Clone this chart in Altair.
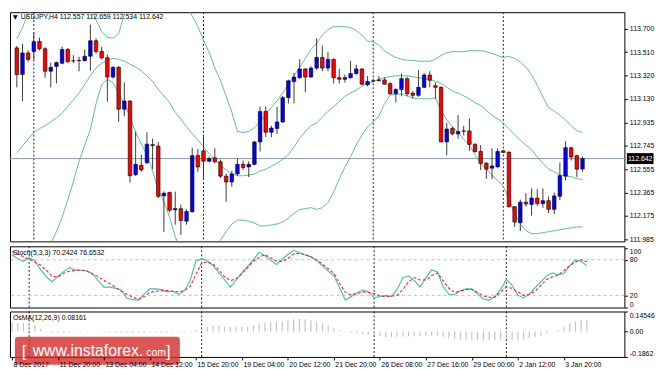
import altair as alt
import pandas as pd

# ---------------- data ----------------
symbol = "USDJPY,H4"
opens = [113.545,113.328,113.504,113.516,113.598,113.538,113.355,113.394,113.420,113.532,
         113.441,113.441,113.441,113.477,113.603,113.516,113.464,113.307,113.386,113.045,
         113.111,112.511,112.587,112.609,112.756,112.744,112.338,112.365,112.224,112.234,
         112.132,112.208,112.668,112.705,112.621,112.648,112.616,112.499,112.451,112.517,
         112.595,112.574,112.595,112.778,113.027,112.857,112.888,112.941,113.139,113.270,
         113.302,113.373,113.307,113.380,113.467,113.380,113.451,113.302,113.289,113.302,
         113.336,113.373,113.245,113.276,113.278,113.284,113.255,113.171,113.205,113.294,
         113.176,113.158,113.223,113.323,113.237,113.223,112.778,112.888,112.844,112.868,
         112.868,112.758,112.700,112.605,112.564,112.574,112.705,112.695,112.250,112.119,
         112.287,112.268,112.320,112.276,112.299,112.228,112.334,112.499,112.731,112.666,
         112.557]
highs = [113.561,113.577,113.524,113.669,113.629,113.551,113.425,113.433,113.556,113.545,
         113.485,113.472,113.532,113.734,113.622,113.556,113.490,113.396,113.396,113.263,
         113.119,112.862,112.674,112.857,112.805,112.778,112.375,112.373,112.373,112.268,
         112.228,112.731,112.721,112.825,112.660,112.726,112.634,112.517,112.543,112.642,
         112.627,112.621,112.786,113.066,113.066,112.909,113.066,113.153,113.286,113.341,
         113.453,113.380,113.396,113.622,113.563,113.512,113.459,113.375,113.328,113.438,
         113.406,113.380,113.315,113.294,113.315,113.302,113.263,113.216,113.336,113.310,
         113.192,113.362,113.340,113.355,113.263,113.231,112.935,112.901,112.996,112.909,
         112.970,112.768,112.752,112.613,112.726,112.726,112.711,112.700,112.255,112.307,
         112.360,112.399,112.393,112.399,112.334,112.365,112.609,112.784,112.737,112.674,
         112.659]
lows = [113.223,113.111,113.433,113.446,113.524,113.302,113.223,113.255,113.412,113.420,
        113.420,113.355,113.435,113.359,113.498,113.451,113.106,113.294,112.941,112.988,
        112.446,112.501,112.535,112.595,112.556,112.320,112.045,112.203,112.103,112.020,
        112.103,112.203,112.535,112.472,112.611,112.603,112.485,112.289,112.412,112.501,
        112.550,112.491,112.587,112.700,112.817,112.817,112.844,112.933,113.092,113.092,
        113.294,113.184,113.302,113.365,113.355,113.355,113.257,113.255,113.263,113.294,
        113.326,113.241,113.231,113.263,113.270,113.247,113.163,113.100,113.150,113.150,
        113.131,113.145,113.216,113.223,113.131,112.776,112.668,112.831,112.805,112.831,
        112.705,112.689,112.548,112.477,112.477,112.569,112.687,112.242,112.085,112.051,
        112.250,112.177,112.255,112.242,112.197,112.189,112.302,112.464,112.627,112.491,
        112.534]
closes = [113.328,113.504,113.451,113.595,113.538,113.355,113.386,113.425,113.532,113.433,
          113.439,113.443,113.477,113.603,113.516,113.464,113.307,113.386,113.045,113.111,
          112.503,112.595,112.550,112.760,112.748,112.334,112.360,112.221,112.234,112.137,
          112.210,112.666,112.574,112.621,112.642,112.616,112.499,112.451,112.517,112.595,
          112.569,112.595,112.778,113.027,112.857,112.891,112.941,113.139,113.276,113.307,
          113.373,113.307,113.380,113.467,113.380,113.451,113.302,113.289,113.302,113.336,
          113.373,113.249,113.270,113.274,113.284,113.249,113.171,113.205,113.294,113.171,
          113.158,113.223,113.323,113.281,113.223,112.778,112.883,112.844,112.862,112.865,
          112.758,112.700,112.603,112.556,112.582,112.700,112.692,112.250,112.124,112.287,
          112.271,112.320,112.276,112.299,112.228,112.338,112.503,112.731,112.656,112.556,
          112.642]
bb_upper = [113.616,113.711,113.828,113.868,113.883,113.899,113.931,113.899,113.876,113.891,
            113.899,113.899,113.883,113.860,113.773,113.679,113.632,113.624,113.663,113.813,
            113.915,113.970,113.993,113.993,113.993,114.009,114.009,113.993,113.962,113.931,
            113.883,113.805,113.718,113.608,113.506,113.381,113.279,113.153,113.020,112.863,
            112.855,112.863,112.894,112.941,113.004,113.059,113.114,113.177,113.247,113.318,
            113.389,113.459,113.530,113.585,113.648,113.695,113.718,113.718,113.718,113.711,
            113.687,113.648,113.601,113.593,113.569,113.522,113.491,113.467,113.452,113.444,
            113.444,113.436,113.436,113.436,113.452,113.483,113.506,113.514,113.514,113.514,
            113.522,113.522,113.522,113.514,113.499,113.483,113.467,113.475,113.459,113.428,
            113.389,113.326,113.239,113.145,113.059,113.028,112.996,112.957,112.910,112.870,
            112.855]
bb_middle = [112.690,112.745,112.800,112.855,112.886,112.910,112.941,112.973,113.012,113.067,
             113.122,113.177,113.247,113.318,113.381,113.420,113.444,113.459,113.452,113.436,
             113.412,113.389,113.357,113.318,113.271,113.208,113.153,113.098,113.020,112.965,
             112.902,112.847,112.792,112.737,112.682,112.635,112.588,112.549,112.517,112.502,
             112.502,112.509,112.517,112.541,112.556,112.580,112.604,112.635,112.674,112.737,
             112.808,112.863,112.910,112.933,112.980,113.028,113.067,113.106,113.153,113.177,
             113.200,113.232,113.255,113.271,113.287,113.302,113.310,113.318,113.318,113.318,
             113.310,113.302,113.294,113.287,113.271,113.255,113.224,113.192,113.177,113.153,
             113.130,113.098,113.075,113.035,112.996,112.965,112.933,112.886,112.839,112.792,
             112.753,112.713,112.658,112.604,112.556,112.533,112.509,112.502,112.494,112.478,
             112.470]
bb_lower = [111.693,111.748,111.795,111.842,111.889,111.920,111.952,112.046,112.164,112.305,
            112.454,112.619,112.753,112.878,113.090,113.247,113.287,113.263,113.177,113.090,
            112.988,112.855,112.761,112.674,112.541,112.384,112.290,112.164,112.007,111.889,
            111.826,111.795,111.787,111.795,111.842,111.913,111.975,112.046,112.109,112.140,
            112.140,112.132,112.117,112.093,112.093,112.101,112.109,112.125,112.156,112.195,
            112.227,112.234,112.242,112.227,112.242,112.282,112.368,112.478,112.572,112.658,
            112.753,112.831,112.902,112.941,112.988,113.090,113.161,113.169,113.169,113.153,
            113.137,113.130,113.130,113.130,113.137,113.035,112.957,112.902,112.855,112.800,
            112.753,112.674,112.604,112.556,112.509,112.462,112.415,112.313,112.195,112.109,
            112.054,112.030,112.030,112.038,112.046,112.054,112.062,112.070,112.077,112.085,
            112.085]
stoch_main = [88.6,82,77.5,83.5,78.3,63,51,43,52,60,
              67,63,62,61.7,57,45,34,34,32,29,
              15,13,12,22,31,31,30,26,27,22,
              28,45,78,82,78,70,58,46,34,46,
              58,69,80,93,87,79,72,81,89,96,
              92,88,85,79,70,61,53,33,12,18,
              24,29,26,16,18,20,18,30,50,53,
              45,34,50,63,60,35,22,21,28,31,
              31,22,14,12,18,30,47,37,20,16,
              22,33,43,53,58,55,57,70,80,77,
              70.2424]
stoch_signal = [94,90,85,81,76,71,62,52,51,57,
                61,62,63,61,56,52,45,40,34,27,
                22,17,13,18,25,27,28,28,27,26,
                28,35,55,75,76,73,63,51,45,48,
                57,67,78,84,89,83,78,77,82,90,
                91,89,85,80,73,65,57,40,25,21,
                23,26,25,23,19,18,19,20,30,43,
                50,46,46,53,58,45,32,25,27,30,
                30,25,19,17,17,26,34,32,26,20,
                22,27,37,47,51,54,62,70,76,80,
                76.6532]
osma = [0.065,0.062,0.062,0.058,0.045,0.02,-0.005,-0.008,-0.01,-0.01,
        -0.008,-0.006,-0.005,-0.004,-0.003,-0.004,-0.006,-0.008,-0.01,-0.01,
        -0.012,-0.012,-0.01,-0.01,-0.008,-0.01,-0.01,-0.01,-0.008,-0.008,
        -0.006,-0.004,0.01,0.02,0.035,0.04,0.04,0.035,0.03,0.03,
        0.032,0.035,0.045,0.06,0.065,0.068,0.07,0.075,0.082,0.088,
        0.09,0.088,0.08,0.07,0.06,0.045,0.025,0.01,-0.005,-0.01,
        -0.015,-0.02,-0.025,-0.03,-0.035,-0.038,-0.04,-0.04,-0.038,-0.035,
        -0.035,-0.035,-0.032,-0.03,-0.03,-0.04,-0.05,-0.055,-0.06,-0.06,
        -0.06,-0.062,-0.065,-0.065,-0.062,-0.058,-0.055,-0.06,-0.065,-0.06,
        -0.05,-0.04,-0.03,-0.015,-0.005,0.01,0.03,0.06,0.075,0.082,
        0.08161]

time_tick_idx = [0, 8, 16, 24, 32, 40, 48, 56, 64, 72, 80, 88, 96]
time_tick_labels = ["8 Dec 2017", "11 Dec 20:00", "13 Dec 04:00", "14 Dec 12:00",
                    "15 Dec 20:00", "19 Dec 04:00", "20 Dec 12:00", "21 Dec 20:00",
                    "26 Dec 08:00", "27 Dec 16:00", "29 Dec 00:00", "2 Jan 12:00",
                    "3 Jan 20:00"]
separators = [3, 33, 63, 86]
price_ticks = [113.700, 113.510, 113.320, 113.130, 112.935, 112.745, 112.555, 112.365, 112.175, 111.985]
stoch_ticks = [0, 20, 80, 100]
stoch_levels = [20, 80]
osma_ticks = [0.14546, 0.0, -0.1862]
osma_tick_labels = ["0.14546", "0.00", "-0.1862"]
stoch_title = "Stoch(5,3,3) 70.2424 76.6532"
osma_title = "OsMA(12,26,9) 0.08161"

# ---------------- layout ----------------
W = 622
H1, H2, H3 = 232, 62, 46
FONT = "Liberation Sans"

n = len(opens)
df = pd.DataFrame({
    "i": list(range(n)), "open": opens, "high": highs, "low": lows, "close": closes,
    "bb_up": bb_upper, "bb_mid": bb_middle, "bb_lo": bb_lower,
    "main": stoch_main, "signal": stoch_signal, "osma": osma,
})
df["zero"] = 0.0
df["dir"] = ["up" if c >= o else "down" for o, c in zip(opens, closes)]
sep_df = pd.DataFrame({"i": separators})
last_df = pd.DataFrame({"p": [closes[-1]], "lbl": [f"{closes[-1]:.3f}"]})
header = f"{symbol} {opens[-1]:.3f} {highs[-1]:.3f} {lows[-1]:.3f} {closes[-1]:.3f}"

xs = alt.Scale(domain=[-0.34, 106.53], nice=False, zero=False)
X = alt.X("i:Q", scale=xs, axis=None)

axis_common = dict(orient="right", tickSize=3, labelFontSize=7, labelPadding=2, domain=False,
                   grid=False, title=None, labelColor="black", tickColor="black", labelFont=FONT,
                   labelOverlap=False)

# ---- price panel ----
ys = alt.Scale(domain=[111.967, 113.836], nice=False, zero=False)
yax = alt.Axis(values=price_ticks, format=".3f", **axis_common)
def YP(f):
    return alt.Y(f, scale=ys, axis=yax)

sep = alt.Chart(sep_df).mark_rule(color="#222222", strokeDash=[2, 2], strokeWidth=1).encode(x=X)
bb = alt.Chart(df).transform_fold(["bb_up", "bb_mid", "bb_lo"], as_=["band", "val"]).mark_line(
    color="#5cc090", strokeWidth=1, clip=True).encode(x=X, y=YP("val:Q"), detail="band:N")
pline = alt.Chart(last_df).mark_rule(color="#8797a8", strokeWidth=1).encode(y=YP("p:Q"))
wick = alt.Chart(df).mark_rule(color="#3a3a3a", strokeWidth=1, clip=True).encode(
    x=X, y=YP("low:Q"), y2="high:Q")
body = alt.Chart(df).mark_bar(size=3.6, stroke="black", strokeWidth=0.6, clip=True).encode(
    x=X, y=YP("open:Q"), y2="close:Q",
    color=alt.Color("dir:N", scale=alt.Scale(domain=["up", "down"], range=["#0000ff", "#ff0000"]), legend=None))
tri = alt.Chart(pd.DataFrame({"t": ["\u25bc"]})).mark_text(
    align="left", baseline="middle", fontSize=6, font="DejaVu Sans", color="black").encode(
    x=alt.value(3), y=alt.value(5), text="t:N")
hdr = alt.Chart(pd.DataFrame({"t": [header]})).mark_text(
    align="left", baseline="middle", fontSize=7, color="black").encode(
    x=alt.value(11), y=alt.value(5), text="t:N")
box = alt.Chart(last_df).mark_point(
    shape="M-1,-0.41L1,-0.41L1,0.41L-1,0.41Z", size=729, filled=True, color="black",
    opacity=1, strokeWidth=0, clip=False).encode(x=alt.value(W + 16), y=YP("p:Q"))
boxt = alt.Chart(last_df).mark_text(color="white", fontSize=7, align="center", baseline="middle").encode(
    x=alt.value(W + 16), y=YP("p:Q"), text="lbl:N")

price = alt.layer(sep, bb, pline, wick, body, tri, hdr, box, boxt).properties(width=W, height=H1)

# ---- stochastic panel ----
yss = alt.Scale(domain=[-0.5, 102.8], nice=False, zero=False)
ysax = alt.Axis(values=stoch_ticks, labelFlush=3, **axis_common)
def YS(f):
    return alt.Y(f, scale=yss, axis=ysax)

lev = alt.Chart(pd.DataFrame({"v": stoch_levels})).mark_rule(
    color="#c0c0c0", strokeDash=[3, 3], strokeWidth=1).encode(y=YS("v:Q"))
smain = alt.Chart(df).mark_line(color="#3dbdb4", strokeWidth=1.1, clip=True).encode(x=X, y=YS("main:Q"))
ssig = alt.Chart(df).mark_line(color="#ff2020", strokeWidth=1.1, strokeDash=[3, 2], clip=True).encode(
    x=X, y=YS("signal:Q"))
stxt = alt.Chart(pd.DataFrame({"t": [stoch_title]})).mark_text(
    align="left", baseline="middle", fontSize=7, color="black").encode(
    x=alt.value(3), y=alt.value(7), text="t:N")
stoch = alt.layer(sep, lev, smain, ssig, stxt).properties(width=W, height=H2)

# ---- OsMA panel ----
yos = alt.Scale(domain=[-0.1862, 0.14546], nice=False, zero=False)
osma_expr = "[" + ",".join(f"'{l}'" for l in osma_tick_labels) + "][indexof([" + \
    ",".join(str(v) for v in osma_ticks) + "], datum.value)]"
yoax = alt.Axis(values=osma_ticks, labelExpr=osma_expr, labelFlush=3, **axis_common)
def YO(f):
    return alt.Y(f, scale=yos, axis=yoax)

time_expr = "[" + ",".join(f"'{l}'" for l in time_tick_labels) + "][indexof([" + \
    ",".join(str(v) for v in time_tick_idx) + "], datum.value)]"
xax = alt.Axis(values=time_tick_idx, labelExpr=time_expr, labelAlign="left", labelBaseline="top",
               tickSize=3, labelPadding=1, labelOffset=1, labelFontSize=7, domain=False, grid=False,
               title=None, labelColor="black", tickColor="black", labelOverlap=False,
               labelFont=FONT, zindex=1)
XO = alt.X("i:Q", scale=xs, axis=xax)

sep3 = alt.Chart(sep_df).mark_rule(color="#222222", strokeDash=[2, 2], strokeWidth=1).encode(x=XO)
obar = alt.Chart(df).mark_rule(color="#c4c4c4", strokeWidth=1.2, clip=True).encode(
    x=XO, y=YO("zero:Q"), y2="osma:Q")
otxt = alt.Chart(pd.DataFrame({"t": [osma_title]})).mark_text(
    align="left", baseline="middle", fontSize=7, color="black").encode(
    x=alt.value(3), y=alt.value(7), text="t:N")
wm = alt.Chart(pd.DataFrame({"a": [0]})).mark_rect(
    color="#d42c2c", opacity=0.8, cornerRadius=3, clip=False).encode(
    x=alt.value(5), x2=alt.value(172), y=alt.value(25.5), y2=alt.value(54))
wm1 = alt.Chart(pd.DataFrame({"t": ["["]})).mark_text(
    align="left", baseline="alphabetic", fontSize=17, color="white", clip=False).encode(
    x=alt.value(12), y=alt.value(46), text="t:N")
wm2 = alt.Chart(pd.DataFrame({"t": ["www.instaforex."]})).mark_text(
    align="left", baseline="alphabetic", fontSize=16, color="white", clip=False).encode(
    x=alt.value(23), y=alt.value(45), text="t:N")
wm3 = alt.Chart(pd.DataFrame({"t": ["com"]})).mark_text(
    align="left", baseline="alphabetic", fontSize=10.5, color="white", clip=False).encode(
    x=alt.value(138), y=alt.value(45), text="t:N")
wm4 = alt.Chart(pd.DataFrame({"t": ["]"]})).mark_text(
    align="left", baseline="alphabetic", fontSize=17, color="white", clip=False).encode(
    x=alt.value(158), y=alt.value(46), text="t:N")

osma_panel = alt.layer(sep3, obar, otxt, wm, wm1, wm2, wm3, wm4).properties(width=W, height=H3)

chart = alt.vconcat(price, stoch, osma_panel, spacing=2).properties(
    padding={"left": 1, "top": 1, "right": 1, "bottom": 1}
).configure(font=FONT).configure_view(stroke="black", strokeWidth=1)

chart.save("out.html", embed_options={"renderer": "svg", "actions": False})
